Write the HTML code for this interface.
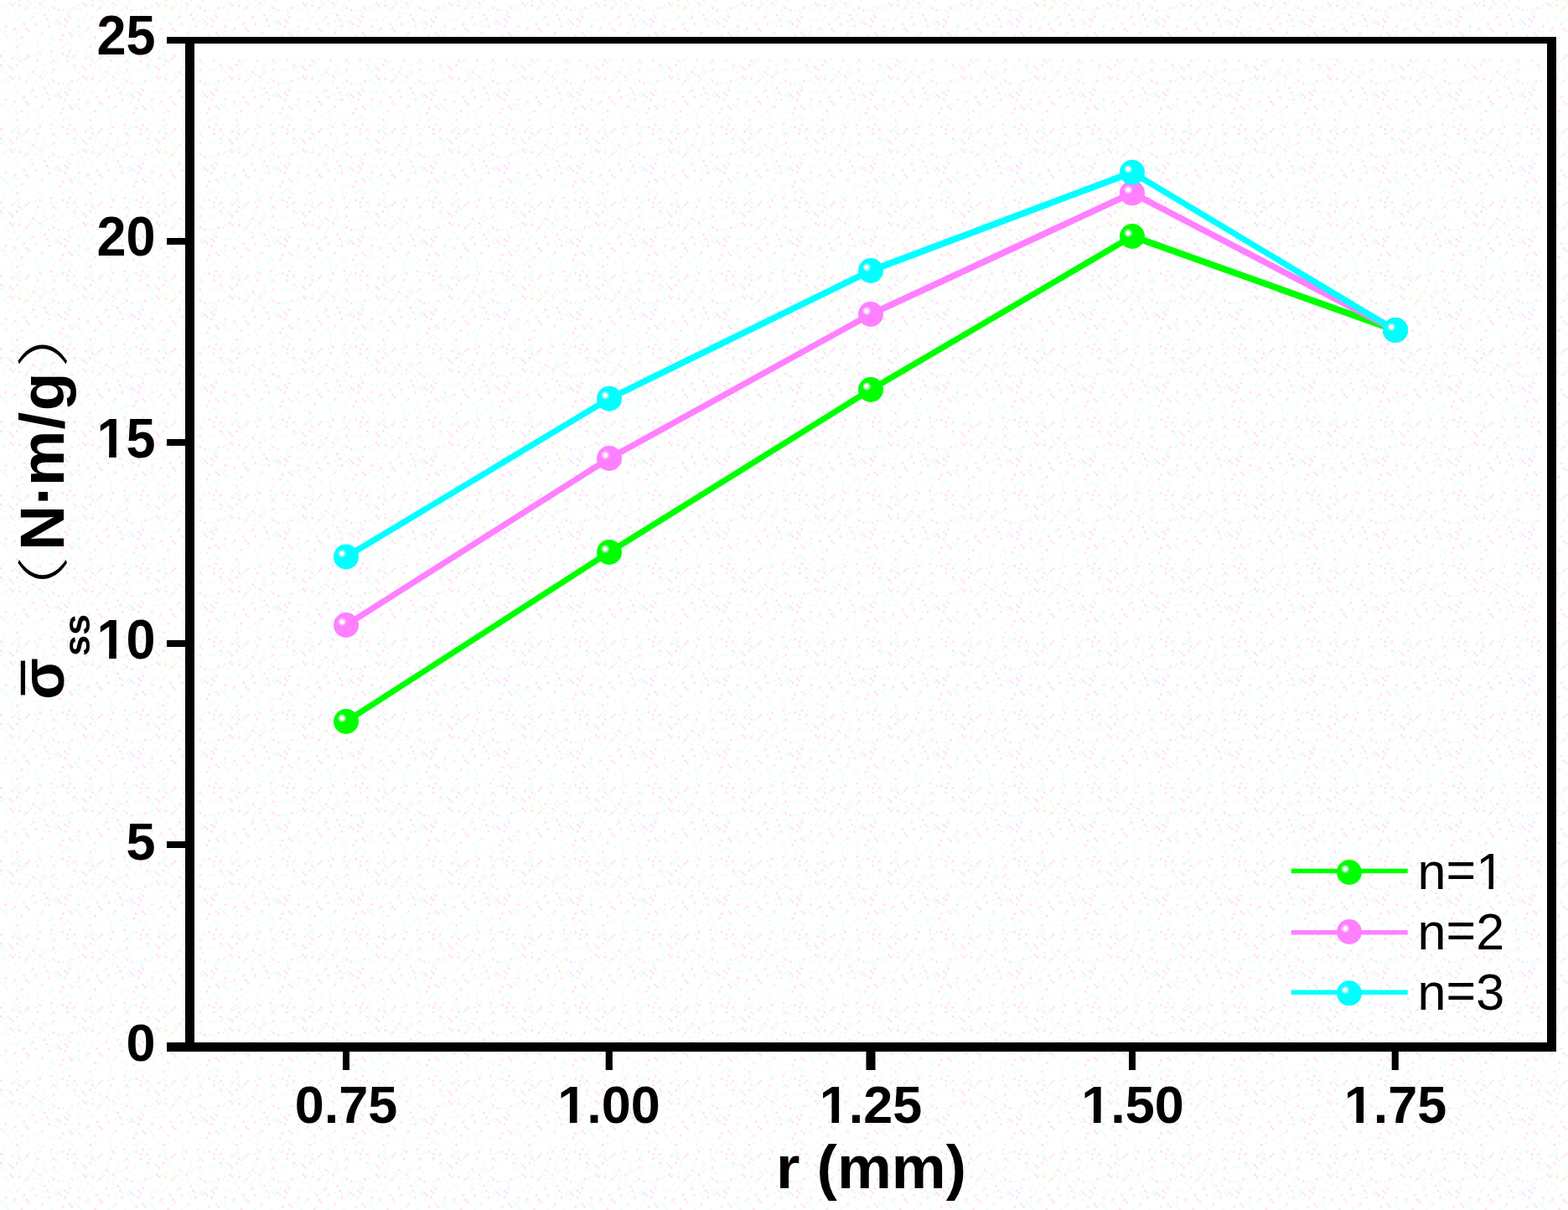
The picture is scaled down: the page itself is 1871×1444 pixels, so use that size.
<!DOCTYPE html>
<html>
<head>
<meta charset="utf-8">
<style>
html,body{margin:0;padding:0;background:#fff;}
body{width:1871px;height:1444px;overflow:hidden;position:relative;}
svg{position:absolute;left:0;top:0;display:block;}
.b{font-family:"Liberation Sans",Arial,sans-serif;font-weight:bold;fill:#000;}
.r{font-family:"Liberation Sans",Arial,sans-serif;font-weight:normal;fill:#000;}
.cjl{font-family:"Liberation Sans","Noto Sans CJK SC","Noto Sans CJK JP",sans-serif;font-weight:300;fill:#000;}
</style>
</head>
<body>
<svg width="1871" height="1444" viewBox="0 0 1871 1444">
<defs>
<radialGradient id="gg" cx="0.34" cy="0.37" r="0.5"><stop offset="0" stop-color="#ffffff"/><stop offset="0.1" stop-color="#ffffff"/><stop offset="0.22" stop-color="#a8eeb0"/><stop offset="0.36" stop-color="#00ff00"/><stop offset="1" stop-color="#00ff00"/></radialGradient>
<radialGradient id="gp" cx="0.34" cy="0.37" r="0.5"><stop offset="0" stop-color="#ffffff"/><stop offset="0.1" stop-color="#ffffff"/><stop offset="0.22" stop-color="#ffc8ff"/><stop offset="0.36" stop-color="#ff80ff"/><stop offset="1" stop-color="#ff80ff"/></radialGradient>
<radialGradient id="gc" cx="0.34" cy="0.37" r="0.5"><stop offset="0" stop-color="#ffffff"/><stop offset="0.1" stop-color="#ffffff"/><stop offset="0.22" stop-color="#a0f0e8"/><stop offset="0.36" stop-color="#00ffff"/><stop offset="1" stop-color="#00ffff"/></radialGradient>
<pattern id="bgp" patternUnits="userSpaceOnUse" width="87.36" height="87.36"><rect x="43.68" y="60.06" width="2.73" height="2.73" fill="#eafdff"/><rect x="2.73" y="79.17" width="2.73" height="2.73" fill="#eafdff"/><rect x="40.95" y="8.19" width="2.73" height="2.73" fill="#eafdff"/><rect x="19.11" y="62.79" width="2.73" height="2.73" fill="#f2fde3"/><rect x="40.95" y="65.52" width="2.73" height="2.73" fill="#f2fde3"/><rect x="40.95" y="0.00" width="2.73" height="2.73" fill="#eafdff"/><rect x="70.98" y="46.41" width="2.73" height="2.73" fill="#ffdff7"/><rect x="65.52" y="27.30" width="2.73" height="2.73" fill="#eafdff"/><rect x="10.92" y="21.84" width="2.73" height="2.73" fill="#eafdff"/><rect x="76.44" y="21.84" width="2.73" height="2.73" fill="#ffdff7"/><rect x="0.00" y="35.49" width="2.73" height="2.73" fill="#eafdff"/><rect x="27.30" y="27.30" width="2.73" height="2.73" fill="#ffdff7"/><rect x="32.76" y="35.49" width="2.73" height="2.73" fill="#ffdff7"/><rect x="32.76" y="65.52" width="2.73" height="2.73" fill="#ffdff7"/><rect x="62.79" y="70.98" width="2.73" height="2.73" fill="#ffdff7"/><rect x="24.57" y="43.68" width="2.73" height="2.73" fill="#ffdff7"/><rect x="51.87" y="0.00" width="2.73" height="2.73" fill="#f2fde3"/><rect x="57.33" y="10.92" width="2.73" height="2.73" fill="#f2fde3"/><rect x="51.87" y="81.90" width="2.73" height="2.73" fill="#eafdff"/><rect x="30.03" y="81.90" width="2.73" height="2.73" fill="#f2fde3"/><rect x="30.03" y="8.19" width="2.73" height="2.73" fill="#ffdff7"/><rect x="2.73" y="60.06" width="2.73" height="2.73" fill="#eafdff"/><rect x="2.73" y="70.98" width="2.73" height="2.73" fill="#f2fde3"/><rect x="0.00" y="76.44" width="2.73" height="2.73" fill="#ffdff7"/><rect x="30.03" y="32.76" width="2.73" height="2.73" fill="#ffdff7"/><rect x="40.95" y="79.17" width="2.73" height="2.73" fill="#f2fde3"/><rect x="60.06" y="43.68" width="2.73" height="2.73" fill="#eafdff"/><rect x="49.14" y="5.46" width="2.73" height="2.73" fill="#f2fde3"/><rect x="13.65" y="35.49" width="2.73" height="2.73" fill="#f2fde3"/><rect x="62.79" y="24.57" width="2.73" height="2.73" fill="#f2fde3"/><rect x="13.65" y="51.87" width="2.73" height="2.73" fill="#eafdff"/><rect x="51.87" y="30.03" width="2.73" height="2.73" fill="#eafdff"/><rect x="24.57" y="51.87" width="2.73" height="2.73" fill="#eafdff"/><rect x="13.65" y="68.25" width="2.73" height="2.73" fill="#ffdff7"/><rect x="79.17" y="70.98" width="2.73" height="2.73" fill="#ffdff7"/><rect x="5.46" y="84.63" width="2.73" height="2.73" fill="#f2fde3"/><rect x="35.49" y="21.84" width="2.73" height="2.73" fill="#eafdff"/><rect x="21.84" y="70.98" width="2.73" height="2.73" fill="#ffdff7"/><rect x="73.71" y="62.79" width="2.73" height="2.73" fill="#ffdff7"/><rect x="24.57" y="79.17" width="2.73" height="2.73" fill="#eafdff"/><rect x="84.63" y="54.60" width="2.73" height="2.73" fill="#f2fde3"/><rect x="68.25" y="24.57" width="2.73" height="2.73" fill="#ffdff7"/><rect x="57.33" y="30.03" width="2.73" height="2.73" fill="#ffdff7"/><rect x="46.41" y="62.79" width="2.73" height="2.73" fill="#ffdff7"/><rect x="60.06" y="5.46" width="2.73" height="2.73" fill="#eafdff"/><rect x="62.79" y="46.41" width="2.73" height="2.73" fill="#eafdff"/><rect x="43.68" y="49.14" width="2.73" height="2.73" fill="#eafdff"/><rect x="0.00" y="81.90" width="2.73" height="2.73" fill="#f2fde3"/><rect x="43.68" y="54.60" width="2.73" height="2.73" fill="#eafdff"/><rect x="79.17" y="49.14" width="2.73" height="2.73" fill="#eafdff"/><rect x="60.06" y="60.06" width="2.73" height="2.73" fill="#ffdff7"/><rect x="57.33" y="24.57" width="2.73" height="2.73" fill="#f2fde3"/><rect x="62.79" y="81.90" width="2.73" height="2.73" fill="#ffdff7"/><rect x="27.30" y="70.98" width="2.73" height="2.73" fill="#f2fde3"/><rect x="46.41" y="2.73" width="2.73" height="2.73" fill="#ffdff7"/><rect x="76.44" y="30.03" width="2.73" height="2.73" fill="#ffdff7"/><rect x="81.90" y="38.22" width="2.73" height="2.73" fill="#ffdff7"/><rect x="21.84" y="19.11" width="2.73" height="2.73" fill="#f2fde3"/><rect x="32.76" y="5.46" width="2.73" height="2.73" fill="#f2fde3"/><rect x="60.06" y="65.52" width="2.73" height="2.73" fill="#eafdff"/><rect x="70.98" y="19.11" width="2.73" height="2.73" fill="#eafdff"/><rect x="51.87" y="16.38" width="2.73" height="2.73" fill="#ffdff7"/><rect x="57.33" y="49.14" width="2.73" height="2.73" fill="#eafdff"/><rect x="79.17" y="24.57" width="2.73" height="2.73" fill="#ffdff7"/><rect x="13.65" y="60.06" width="2.73" height="2.73" fill="#eafdff"/><rect x="0.00" y="65.52" width="2.73" height="2.73" fill="#ffdff7"/><rect x="65.52" y="73.71" width="2.73" height="2.73" fill="#f2fde3"/><rect x="38.22" y="84.63" width="2.73" height="2.73" fill="#ffdff7"/><rect x="65.52" y="65.52" width="2.73" height="2.73" fill="#eafdff"/><rect x="43.68" y="70.98" width="2.73" height="2.73" fill="#ffdff7"/><rect x="49.14" y="24.57" width="2.73" height="2.73" fill="#f2fde3"/><rect x="19.11" y="76.44" width="2.73" height="2.73" fill="#ffdff7"/><rect x="5.46" y="21.84" width="2.73" height="2.73" fill="#eafdff"/><rect x="46.41" y="40.95" width="2.73" height="2.73" fill="#eafdff"/><rect x="5.46" y="40.95" width="2.73" height="2.73" fill="#f2fde3"/><rect x="49.14" y="84.63" width="2.73" height="2.73" fill="#eafdff"/><rect x="81.90" y="19.11" width="2.73" height="2.73" fill="#ffdff7"/><rect x="49.14" y="57.33" width="2.73" height="2.73" fill="#eafdff"/><rect x="21.84" y="5.46" width="2.73" height="2.73" fill="#ffdff7"/><rect x="79.17" y="16.38" width="2.73" height="2.73" fill="#eafdff"/><rect x="32.76" y="0.00" width="2.73" height="2.73" fill="#f2fde3"/><rect x="73.71" y="81.90" width="2.73" height="2.73" fill="#eafdff"/><rect x="68.25" y="32.76" width="2.73" height="2.73" fill="#eafdff"/><rect x="79.17" y="10.92" width="2.73" height="2.73" fill="#f2fde3"/><rect x="24.57" y="73.71" width="2.73" height="2.73" fill="#f2fde3"/><rect x="8.19" y="10.92" width="2.73" height="2.73" fill="#eafdff"/><rect x="46.41" y="13.65" width="2.73" height="2.73" fill="#eafdff"/><rect x="73.71" y="10.92" width="2.73" height="2.73" fill="#eafdff"/><rect x="84.63" y="8.19" width="2.73" height="2.73" fill="#ffdff7"/><rect x="19.11" y="38.22" width="2.73" height="2.73" fill="#eafdff"/><rect x="19.11" y="21.84" width="2.73" height="2.73" fill="#eafdff"/><rect x="70.98" y="27.30" width="2.73" height="2.73" fill="#ffdff7"/><rect x="16.38" y="65.52" width="2.73" height="2.73" fill="#eafdff"/><rect x="46.41" y="8.19" width="2.73" height="2.73" fill="#f2fde3"/><rect x="19.11" y="68.25" width="2.73" height="2.73" fill="#eafdff"/><rect x="21.84" y="0.00" width="2.73" height="2.73" fill="#f2fde3"/><rect x="54.60" y="84.63" width="2.73" height="2.73" fill="#f2fde3"/><rect x="62.79" y="8.19" width="2.73" height="2.73" fill="#ffdff7"/><rect x="49.14" y="38.22" width="2.73" height="2.73" fill="#ffdff7"/><rect x="40.95" y="43.68" width="2.73" height="2.73" fill="#eafdff"/><rect x="79.17" y="65.52" width="2.73" height="2.73" fill="#ffdff7"/><rect x="13.65" y="5.46" width="2.73" height="2.73" fill="#ffdff7"/><rect x="79.17" y="81.90" width="2.73" height="2.73" fill="#eafdff"/><rect x="16.38" y="2.73" width="2.73" height="2.73" fill="#f2fde3"/><rect x="38.22" y="19.11" width="2.73" height="2.73" fill="#ffdff7"/><rect x="21.84" y="65.52" width="2.73" height="2.73" fill="#f2fde3"/><rect x="21.84" y="60.06" width="2.73" height="2.73" fill="#eafdff"/><rect x="5.46" y="35.49" width="2.73" height="2.73" fill="#eafdff"/><rect x="68.25" y="10.92" width="2.73" height="2.73" fill="#ffdff7"/><rect x="5.46" y="30.03" width="2.73" height="2.73" fill="#ffdff7"/><rect x="81.90" y="60.06" width="2.73" height="2.73" fill="#ffdff7"/><rect x="81.90" y="51.87" width="2.73" height="2.73" fill="#eafdff"/><rect x="73.71" y="54.60" width="2.73" height="2.73" fill="#f2fde3"/><rect x="16.38" y="32.76" width="2.73" height="2.73" fill="#ffdff7"/><rect x="27.30" y="10.92" width="2.73" height="2.73" fill="#f2fde3"/><rect x="19.11" y="46.41" width="2.73" height="2.73" fill="#eafdff"/><rect x="62.79" y="54.60" width="2.73" height="2.73" fill="#eafdff"/><rect x="19.11" y="54.60" width="2.73" height="2.73" fill="#ffdff7"/><rect x="40.95" y="27.30" width="2.73" height="2.73" fill="#ffdff7"/><rect x="2.73" y="38.22" width="2.73" height="2.73" fill="#eafdff"/><rect x="68.25" y="62.79" width="2.73" height="2.73" fill="#eafdff"/><rect x="10.92" y="79.17" width="2.73" height="2.73" fill="#ffdff7"/><rect x="8.19" y="76.44" width="2.73" height="2.73" fill="#eafdff"/><rect x="5.46" y="5.46" width="2.73" height="2.73" fill="#f2fde3"/><rect x="60.06" y="16.38" width="2.73" height="2.73" fill="#eafdff"/><rect x="13.65" y="81.90" width="2.73" height="2.73" fill="#ffdff7"/><rect x="84.63" y="68.25" width="2.73" height="2.73" fill="#eafdff"/><rect x="8.19" y="43.68" width="2.73" height="2.73" fill="#eafdff"/><rect x="76.44" y="51.87" width="2.73" height="2.73" fill="#eafdff"/><rect x="30.03" y="68.25" width="2.73" height="2.73" fill="#ffdff7"/><rect x="38.22" y="13.65" width="2.73" height="2.73" fill="#eafdff"/><rect x="16.38" y="13.65" width="2.73" height="2.73" fill="#f2fde3"/><rect x="35.49" y="2.73" width="2.73" height="2.73" fill="#f2fde3"/><rect x="60.06" y="84.63" width="2.73" height="2.73" fill="#f2fde3"/><rect x="65.52" y="21.84" width="2.73" height="2.73" fill="#eafdff"/><rect x="51.87" y="76.44" width="2.73" height="2.73" fill="#eafdff"/><rect x="81.90" y="13.65" width="2.73" height="2.73" fill="#eafdff"/><rect x="54.60" y="21.84" width="2.73" height="2.73" fill="#ffdff7"/><rect x="73.71" y="40.95" width="2.73" height="2.73" fill="#ffdff7"/><rect x="84.63" y="40.95" width="2.73" height="2.73" fill="#ffdff7"/><rect x="32.76" y="49.14" width="2.73" height="2.73" fill="#eafdff"/><rect x="65.52" y="0.00" width="2.73" height="2.73" fill="#eafdff"/><rect x="2.73" y="8.19" width="2.73" height="2.73" fill="#eafdff"/><rect x="10.92" y="2.73" width="2.73" height="2.73" fill="#ffdff7"/><rect x="60.06" y="73.71" width="2.73" height="2.73" fill="#eafdff"/></pattern>
<clipPath id="c1" clipPathUnits="userSpaceOnUse"><rect x="-90.08" y="-75.60" width="110.08" height="68.57"/><rect x="-90.08" y="-7.03" width="22.77" height="32.23"/><rect x="-55.37" y="-7.03" width="8.64" height="32.23"/><rect x="-35.79" y="-7.03" width="55.79" height="32.23"/></clipPath>
<clipPath id="c2" clipPathUnits="userSpaceOnUse"><rect x="-90.08" y="-75.60" width="110.08" height="68.57"/><rect x="-90.08" y="-7.03" width="22.77" height="32.23"/><rect x="-55.37" y="-7.03" width="8.64" height="32.23"/><rect x="-35.79" y="-7.03" width="55.79" height="32.23"/></clipPath>
<clipPath id="c3" clipPathUnits="userSpaceOnUse"><rect x="-81.31" y="-75.60" width="162.62" height="68.57"/><rect x="-81.31" y="-7.03" width="22.77" height="32.23"/><rect x="-46.60" y="-7.03" width="8.64" height="32.23"/><rect x="-27.02" y="-7.03" width="108.33" height="32.23"/></clipPath>
<clipPath id="c4" clipPathUnits="userSpaceOnUse"><rect x="-81.31" y="-75.60" width="162.62" height="68.57"/><rect x="-81.31" y="-7.03" width="22.77" height="32.23"/><rect x="-46.60" y="-7.03" width="8.64" height="32.23"/><rect x="-27.02" y="-7.03" width="108.33" height="32.23"/></clipPath>
<clipPath id="c5" clipPathUnits="userSpaceOnUse"><rect x="-81.31" y="-75.60" width="162.62" height="68.57"/><rect x="-81.31" y="-7.03" width="22.77" height="32.23"/><rect x="-46.60" y="-7.03" width="8.64" height="32.23"/><rect x="-27.02" y="-7.03" width="108.33" height="32.23"/></clipPath>
<clipPath id="c6" clipPathUnits="userSpaceOnUse"><rect x="-81.31" y="-75.60" width="162.62" height="68.57"/><rect x="-81.31" y="-7.03" width="22.77" height="32.23"/><rect x="-46.60" y="-7.03" width="8.64" height="32.23"/><rect x="-27.02" y="-7.03" width="108.33" height="32.23"/></clipPath>
<clipPath id="c7" clipPathUnits="userSpaceOnUse"><rect x="-20.00" y="-73.20" width="143.47" height="68.04"/><rect x="-20.00" y="-5.16" width="92.99" height="29.56"/><rect x="84.89" y="-5.16" width="5.39" height="29.56"/><rect x="101.50" y="-5.16" width="21.98" height="29.56"/></clipPath>
</defs>
<rect x="0" y="0" width="1871" height="1444" fill="url(#bgp)"/>
<g fill="#fff"><rect x="232" y="52" width="5" height="1192"/><rect x="232" y="52" width="1614" height="18"/><rect x="1840" y="52" width="6" height="1192"/></g>
<g fill="#000">
<rect x="221" y="44" width="1636" height="8"/>
<rect x="221" y="44" width="11" height="1211"/>
<rect x="1846" y="44" width="11" height="1211"/>
<rect x="221" y="1244" width="1636" height="11"/>
<rect x="199" y="44" width="22" height="8"/>
<rect x="199" y="284" width="22" height="8"/>
<rect x="199" y="524" width="22" height="8"/>
<rect x="199" y="764" width="22" height="8"/>
<rect x="199" y="1004" width="22" height="8"/>
<rect x="199" y="1244" width="22" height="11"/>
<rect x="409" y="1255" width="8" height="22"/>
<rect x="722.7" y="1255" width="8.2" height="22"/>
<rect x="1033.5" y="1255" width="11" height="22"/>
<rect x="1347" y="1255" width="8" height="22"/>
<rect x="1660.7" y="1255" width="8.1" height="22"/>
</g>
<g transform="translate(185.5,65.2) scale(1,1.07)"><text class="b" font-size="63" x="-70.08" y="0">25</text></g>
<g transform="translate(185.5,305.4) scale(1,1.07)"><text class="b" font-size="63" x="-70.08" y="0">20</text></g>
<g transform="translate(185.5,545.6) scale(1,1.07)" clip-path="url(#c1)"><text class="b" font-size="63" x="-70.08" y="0">15</text></g>
<g transform="translate(185.5,785.6) scale(1,1.07)" clip-path="url(#c2)"><text class="b" font-size="63" x="-70.08" y="0">10</text></g>
<g transform="translate(185.5,1025.6)"><text class="b" font-size="63" x="-35.04" y="0">5</text></g>
<g transform="translate(185.5,1265.5)"><text class="b" font-size="63" x="-35.04" y="0">0</text></g>
<g transform="translate(413,1340)"><text class="b" font-size="63" x="-61.31" y="0">0.75</text></g>
<g transform="translate(726.5,1340)" clip-path="url(#c3)"><text class="b" font-size="63" x="-61.31" y="0">1.00</text></g>
<g transform="translate(1039,1340)" clip-path="url(#c4)"><text class="b" font-size="63" x="-61.31" y="0">1.25</text></g>
<g transform="translate(1351.5,1340)" clip-path="url(#c5)"><text class="b" font-size="63" x="-61.31" y="0">1.50</text></g>
<g transform="translate(1665,1340)" clip-path="url(#c6)"><text class="b" font-size="63" x="-61.31" y="0">1.75</text></g>
<text class="b" font-size="73" x="1039.5" y="1418" text-anchor="middle">r (mm)</text>
<g transform="rotate(-90)">
<text class="b" font-size="73" x="-835" y="76.3">σ</text>
<rect x="-829.4" y="24.8" width="40.9" height="5.2" fill="#000"/>
<text class="b" font-size="45" x="-783" y="106.6">ss</text>
<text class="cjl" font-size="62" transform="translate(-759.5,74.5) scale(1.55,1)">（</text>
<text class="b" font-size="75" x="-657" y="76.3">N·<tspan dx="-2.5">m</tspan><tspan dx="1.2">/</tspan><tspan dx="1.3">g</tspan></text>
<text class="cjl" font-size="62" transform="translate(-439,74.5) scale(1.55,1)">）</text>
</g>
<path fill="#00ff00" d="M413,856.80L727,654.80L727,663.20L413,865.20ZM727,654.80L1039,460.80L1039,469.20L727,663.20ZM1039,460.80L1351,277.80L1351,286.20L1039,469.20ZM1351,277.80L1665,389.80L1665,398.20L1351,286.20Z"/>
<path fill="#ff80ff" d="M413,741.80L727,542.80L727,551.20L413,750.20ZM727,542.80L1039,370.80L1039,379.20L727,551.20ZM1039,370.80L1351,226.10L1351,234.50L1039,379.20ZM1351,226.10L1665,389.80L1665,398.20L1351,234.50Z"/>
<path fill="#00ffff" d="M413,660.30L727,471.50L727,479.90L413,668.70ZM727,471.50L1039,318.80L1039,327.20L727,479.90ZM1039,318.80L1351,201.50L1351,209.90L1039,327.20ZM1351,201.50L1665,389.80L1665,398.20L1351,209.90Z"/>
<circle cx="413" cy="861" r="15" fill="url(#gg)"/>
<circle cx="727" cy="659" r="15" fill="url(#gg)"/>
<circle cx="1039" cy="465" r="15" fill="url(#gg)"/>
<circle cx="1351" cy="282" r="15" fill="url(#gg)"/>
<circle cx="1665" cy="394" r="15" fill="url(#gg)"/>
<circle cx="413" cy="746" r="15" fill="url(#gp)"/>
<circle cx="727" cy="547" r="15" fill="url(#gp)"/>
<circle cx="1039" cy="375" r="15" fill="url(#gp)"/>
<circle cx="1351" cy="230.3" r="15" fill="url(#gp)"/>
<circle cx="1665" cy="394" r="15" fill="url(#gp)"/>
<circle cx="413" cy="664.5" r="15" fill="url(#gc)"/>
<circle cx="727" cy="475.7" r="15" fill="url(#gc)"/>
<circle cx="1039" cy="323" r="15" fill="url(#gc)"/>
<circle cx="1351" cy="205.7" r="15" fill="url(#gc)"/>
<circle cx="1665" cy="394" r="15" fill="url(#gc)"/>
<rect x="1540.7" y="1036.70" width="139" height="5.5" fill="#00ff00"/>
<circle cx="1610" cy="1041" r="15" fill="url(#gg)"/>
<g transform="translate(1691.6,1061)" clip-path="url(#c7)"><text class="r" font-size="61" x="0.00" y="0">n<tspan dy="-1.8">=</tspan><tspan dy="1.8">1</tspan></text></g>
<rect x="1540.7" y="1110.05" width="139" height="5.5" fill="#ff80ff"/>
<circle cx="1610" cy="1112" r="15" fill="url(#gp)"/>
<g transform="translate(1691.6,1132.5)"><text class="r" font-size="61" x="0.00" y="0">n<tspan dy="-1.8">=</tspan><tspan dy="1.8">2</tspan></text></g>
<rect x="1540.7" y="1181.50" width="139" height="5.5" fill="#00ffff"/>
<circle cx="1610" cy="1185.3" r="15" fill="url(#gc)"/>
<g transform="translate(1691.6,1205)"><text class="r" font-size="61" x="0.00" y="0">n<tspan dy="-1.8">=</tspan><tspan dy="1.8">3</tspan></text></g>
</svg>
</body>
</html>
